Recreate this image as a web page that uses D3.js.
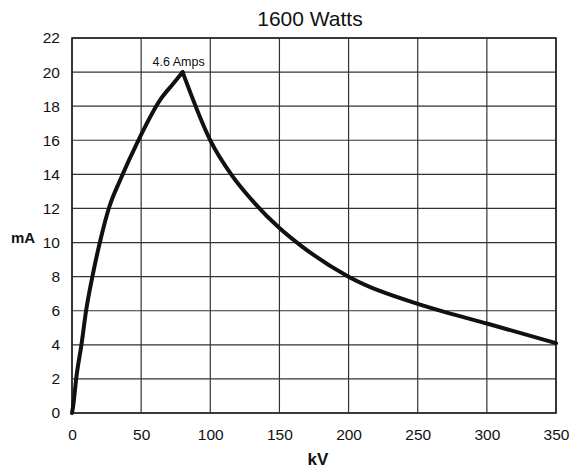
<!DOCTYPE html>
<html>
<head>
  <title>1600 Watts</title>
  <script src="https://cdn.jsdelivr.net/npm/d3@7"></script>
  <style>
    body { margin: 0; background: #fff; }
    text { font-family: "Liberation Sans", Arial, sans-serif; fill: #111; }
  </style>
</head>
<body>
  <div id="chart"></div>
  <script>
    // values
    const kv = [0, 1, 3, 7, 10, 15, 21, 27, 35, 48, 64, 73, 80, 100, 116, 130, 150, 165, 200, 250, 275, 300, 350];
    const ma = [0, 0.5, 2, 4.1, 5.9, 8.1, 10.3, 12.1, 13.7, 16, 18.4, 19.3, 20, 16, 13.9, 12.5, 10.85, 9.85, 8.0, 6.4, 5.8, 5.25, 4.1];
    const xTicks = [0, 50, 100, 150, 200, 250, 300, 350];
    const yTicks = [0, 2, 4, 6, 8, 10, 12, 14, 16, 18, 20, 22];
    const peakLabel = "4.6 Amps";

    const width = 571, height = 468;
    const margin = { top: 38, right: 15, bottom: 55, left: 72 };

    const x = d3.scaleLinear().domain([0, 350]).range([margin.left, width - margin.right]);
    const y = d3.scaleLinear().domain([0, 22]).range([height - margin.bottom, margin.top]);

    const svg = d3.select("#chart").append("svg")
        .attr("width", width)
        .attr("height", height);

    // grid
    svg.append("g")
        .selectAll("line")
        .data(xTicks)
        .enter().append("line")
        .attr("x1", d => x(d)).attr("x2", d => x(d))
        .attr("y1", y(0)).attr("y2", y(22))
        .attr("stroke", "#333").attr("stroke-width", 1.2);

    svg.append("g")
        .selectAll("line")
        .data(yTicks)
        .enter().append("line")
        .attr("x1", x(0)).attr("x2", x(350))
        .attr("y1", d => y(d)).attr("y2", d => y(d))
        .attr("stroke", "#333").attr("stroke-width", 1.2);

    // frame
    svg.append("rect")
        .attr("x", x(0)).attr("y", y(22))
        .attr("width", x(350) - x(0)).attr("height", y(0) - y(22))
        .attr("fill", "none").attr("stroke", "#222").attr("stroke-width", 1.6);

    // axes (labels only)
    const xAxis = svg.append("g")
        .attr("transform", `translate(0,${y(0)})`)
        .call(d3.axisBottom(x).tickValues(xTicks).tickSize(0).tickPadding(16));
    const yAxis = svg.append("g")
        .attr("transform", `translate(${x(0)},0)`)
        .call(d3.axisLeft(y).tickValues(yTicks).tickSize(0).tickPadding(12));
    [xAxis, yAxis].forEach(g => {
      g.select(".domain").remove();
      g.selectAll("text")
          .style("font-family", '"Liberation Sans", Arial, sans-serif')
          .style("font-size", "15.5px")
          .attr("fill", "#111");
    });

    // curve: rising and falling parts smoothed separately so the peak stays sharp
    const pts = d3.zip(kv, ma);
    const peakIdx = d3.maxIndex(ma);
    const line = d3.line()
        .x(d => x(d[0]))
        .y(d => y(d[1]))
        .curve(d3.curveMonotoneX);

    svg.append("g")
        .selectAll("path")
        .data([pts.slice(0, peakIdx + 1), pts.slice(peakIdx)])
        .enter().append("path")
        .attr("d", line)
        .attr("fill", "none")
        .attr("stroke", "#111")
        .attr("stroke-width", 4)
        .attr("stroke-linejoin", "round")
        .attr("stroke-linecap", "round");

    // peak annotation
    svg.append("text")
        .attr("x", x(kv[peakIdx]) - 4)
        .attr("y", y(ma[peakIdx]) - 6)
        .attr("text-anchor", "middle")
        .style("font-size", "12.5px")
        .text(peakLabel);

    // title and axis titles
    svg.append("text")
        .attr("x", (x(0) + x(350)) / 2 - 4)
        .attr("y", 26)
        .attr("text-anchor", "middle")
        .style("font-size", "21px")
        .text("1600 Watts");

    svg.append("text")
        .attr("x", (x(0) + x(350)) / 2 + 4)
        .attr("y", 465)
        .attr("text-anchor", "middle")
        .style("font-size", "17px")
        .style("font-weight", "bold")
        .text("kV");

    svg.append("text")
        .attr("x", 11)
        .attr("y", 243)
        .style("font-size", "15px")
        .style("font-weight", "bold")
        .text("mA");
  </script>
</body>
</html>
